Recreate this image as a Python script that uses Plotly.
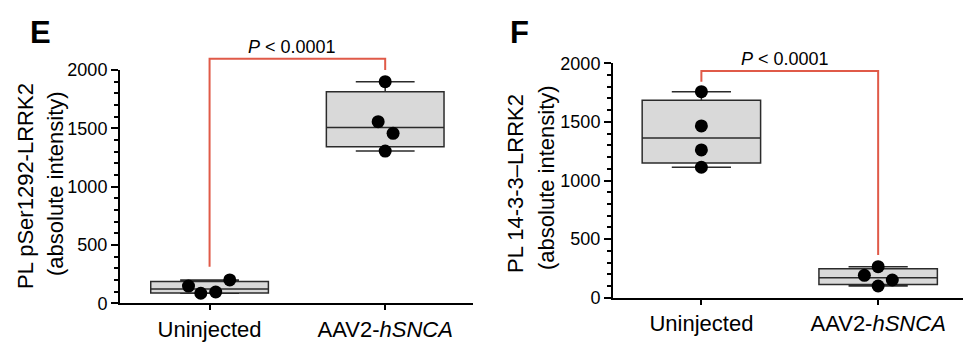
import numpy as np
import plotly.graph_objects as go

# ---------------- data ----------------
categories = ["Uninjected", "AAV2-<i>hSNCA</i>"]

e_uninjected = [148, 86, 97, 200]
e_aav2 = [1900, 1557, 1457, 1305]
f_uninjected = [1758, 1466, 1261, 1113]
f_aav2 = [265, 191, 151, 100]

# horizontal scatter offsets of the dots (category units)
e_uninjected_jit = [-0.12, -0.05, 0.035, 0.115]
e_aav2_jit = [0.0, -0.04, 0.045, 0.0]
f_uninjected_jit = [0.0, 0.0, 0.0, 0.0]
f_aav2_jit = [0.0, -0.078, 0.08, 0.0]

# significance bracket: [left foot, top, right foot]
e_bracket = [314, 2097, 2000]
f_bracket = [1843, 1935, 364]
p_text = "<i>P</i> < 0.0001"

y_ticks = [0, 500, 1000, 1500, 2000]
e_ylabel = ["PL pSer1292-LRRK2", "(absolute intensity)"]
f_ylabel = ["PL 14-3-3–LRRK2", "(absolute intensity)"]

# ---------------- style ----------------
FONT = "Liberation Sans, Arial, Helvetica, sans-serif"
TXT = "#000000"
RED = "#e05a48"
BOX_FILL = "#d9d9d9"
BOX_LINE = "#2b2b2b"

W, H = 977, 346
E_X = [120 / W, 473 / W]
E_Y = [1 - 303.3 / H, 1 - 70 / H]
F_X = [613 / W, 963 / W]
F_Y = [1 - 297.7 / H, 1 - 63.3 / H]
E_XR = [-0.51, 1.5]
F_XR = [-0.5, 1.48]
YMAX = 2000


def stats(vals):
    v = np.array(vals, dtype=float)
    q1, med, q3 = np.percentile(v, [25, 50, 75], method="weibull")
    return q1, med, q3, v.min(), v.max()


fig = go.Figure()


def add_panel(groups, jits, xa, ya):
    for i, vals in enumerate(groups):
        q1, med, q3, lo, hi = stats(vals)
        fig.add_trace(go.Box(
            x=[i], q1=[q1], median=[med], q3=[q3], lowerfence=[lo], upperfence=[hi],
            width=0.67, whiskerwidth=0.5, fillcolor=BOX_FILL,
            line=dict(color=BOX_LINE, width=1.5), boxpoints=False,
            xaxis=xa, yaxis=ya, showlegend=False, hoverinfo="skip"))
    for i, (vals, jit) in enumerate(zip(groups, jits)):
        fig.add_trace(go.Scatter(
            x=[i + j for j in jit], y=vals, mode="markers",
            marker=dict(color="black", size=13, line=dict(width=0)),
            xaxis=xa, yaxis=ya, showlegend=False, cliponaxis=False, hoverinfo="skip"))


add_panel([e_uninjected, e_aav2], [e_uninjected_jit, e_aav2_jit], "x", "y")
add_panel([f_uninjected, f_aav2], [f_uninjected_jit, f_aav2_jit], "x2", "y2")

# brackets on invisible, taller axes sharing the same data scale
for br, xa, ya in [(e_bracket, "x3", "y3"), (f_bracket, "x4", "y4")]:
    fig.add_trace(go.Scatter(
        x=[0, 0, 1, 1], y=[br[0], br[1], br[1], br[2]], mode="lines",
        line=dict(color=RED, width=2), xaxis=xa, yaxis=ya,
        showlegend=False, hoverinfo="skip", cliponaxis=False))


def yaxis(dom, anchor):
    return dict(
        domain=dom, range=[0, YMAX], tickvals=y_ticks, ticks="outside", ticklen=7,
        tickwidth=2, tickcolor="black", showline=True, linecolor="black", linewidth=2,
        showgrid=False, zeroline=False, automargin=False, anchor=anchor,
        tickfont=dict(family=FONT, size=18, color=TXT),
        minor=dict(dtick=100, ticks="outside", ticklen=4, tickwidth=2,
                   tickcolor="black", showgrid=False),
    )


def xaxis(dom, rng, anchor):
    return dict(
        domain=dom, range=rng, tickvals=[0, 1], ticktext=categories,
        ticks="outside", ticklen=5, tickwidth=2, tickcolor="black",
        showline=True, linecolor="black", linewidth=2, showgrid=False, zeroline=False,
        tickfont=dict(family=FONT, size=22, color=TXT), anchor=anchor, automargin=False,
    )


def ghost_y(dom, anchor):
    top = 1.0
    return dict(domain=[dom[0], top], range=[0, YMAX * (top - dom[0]) / (dom[1] - dom[0])],
                visible=False, fixedrange=True, automargin=False, anchor=anchor)


def ghost_x(dom, rng, anchor):
    return dict(domain=dom, range=rng, visible=False, automargin=False, anchor=anchor)


fig.update_layout(
    width=W, height=H, autosize=False,
    margin=dict(l=0, r=0, t=0, b=0, pad=0, autoexpand=False),
    paper_bgcolor="white", plot_bgcolor="rgba(0,0,0,0)",
    xaxis=xaxis(E_X, E_XR, "y"),
    yaxis=yaxis(E_Y, "x"),
    xaxis2=xaxis(F_X, F_XR, "y2"),
    yaxis2=yaxis(F_Y, "x2"),
    xaxis3=ghost_x(E_X, E_XR, "y3"),
    yaxis3=ghost_y(E_Y, "x3"),
    xaxis4=ghost_x(F_X, F_XR, "y4"),
    yaxis4=ghost_y(F_Y, "x4"),
)

ann = []
# panel letters
ann.append(dict(text="<b>E</b>", x=40 / W, y=1 - 33 / H, font=dict(size=31)))
ann.append(dict(text="<b>F</b>", x=519 / W, y=1 - 33 / H, font=dict(size=31)))
# p-values
ann.append(dict(text=p_text, x=292 / W, y=1 - 46.5 / H, font=dict(size=18)))
ann.append(dict(text=p_text, x=785 / W, y=1 - 58.5 / H, font=dict(size=18)))
# y titles
ann.append(dict(text=e_ylabel[0], x=25 / W, y=1 - 186 / H, textangle=-90, font=dict(size=22)))
ann.append(dict(text=e_ylabel[1], x=56 / W, y=1 - 184 / H, textangle=-90, font=dict(size=22)))
ann.append(dict(text=f_ylabel[0], x=516 / W, y=1 - 184 / H, textangle=-90, font=dict(size=22)))
ann.append(dict(text=f_ylabel[1], x=546 / W, y=1 - 178 / H, textangle=-90, font=dict(size=22)))

for a in ann:
    a.update(xref="paper", yref="paper", showarrow=False, xanchor="center", yanchor="middle")
    a["font"] = dict(family=FONT, color=TXT, **a["font"])
fig.update_layout(annotations=ann)

fig.write_html("out.html")
